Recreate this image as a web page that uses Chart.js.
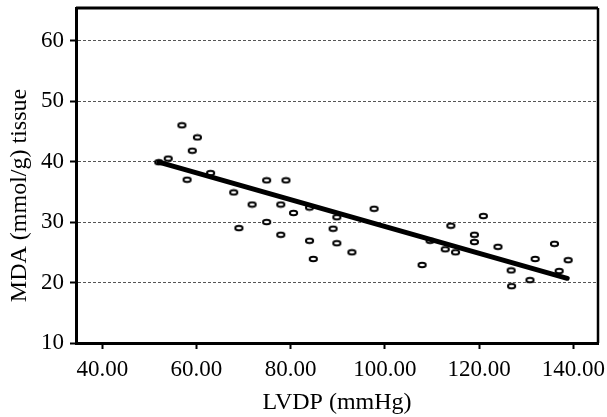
<!DOCTYPE html>
<html>
<head>
<meta charset="utf-8">
<script src="https://cdn.jsdelivr.net/npm/chart.js@4.4.1/dist/chart.umd.min.js"></script>
<style>
html,body{margin:0;padding:0;background:#fff;}
</style>
</head>
<body>
<canvas id="mdaChart" width="607" height="417"></canvas>
<script>
// LVDP vs MDA
var lvdp=[52.0,54.0,56.9,58.0,59.1,60.2,63.0,67.9,69.0,71.8,74.9,74.9,77.9,77.9,79.0,80.6,84.0,84.0,84.8,89.0,89.8,89.8,93.0,97.7,
	107.9,109.6,112.8,114.0,115.0,119.0,119.0,120.9,124.0,126.8,126.9,130.8,131.9,136.0,137.0,138.9];
var mda=[39.9,40.5,46.0,37.0,41.8,44.0,38.1,34.9,29.0,32.9,36.9,30.0,32.9,27.9,36.9,31.5,32.4,26.9,23.9,28.9,30.8,26.5,25.0,32.2,
	22.9,26.9,25.5,29.4,25.0,27.9,26.7,31.0,25.9,22.0,19.4,20.4,23.9,26.4,21.9,23.7];
// fitted line ends
var fitX=[52.0,138.7];
var fitY=[39.9,20.7];
var xTicks=[40,60,80,100,120,140];
var yTicks=[10,20,30,40,50,60];
var xTitle='LVDP (mmHg)';
var yTitle='MDA (mmol/g) tissue';

var serif='"Liberation Serif","Times New Roman",serif';

//작은 타원 마커
function makeMarker(){
	var c=document.createElement('canvas');
	c.width=11;c.height=8;
	var g=c.getContext('2d');
	g.beginPath();
	g.ellipse(5.5,4,3.6,2.3,0,0,Math.PI*2);
	g.fillStyle='#fff';
	g.fill();
	g.lineWidth=2;
	g.strokeStyle='#000';
	g.stroke();
	return c;
}

var pts=[];
for(var i=0;i<lvdp.length;i++){
	pts.push({x:lvdp[i],y:mda[i]});
}
var fitPts=[];
for(var j=0;j<fitX.length;j++){
	fitPts.push({x:fitX[j],y:fitY[j]});
}

//top/right frame + y title (sits below the axis middle in the original)
var framePlugin={
	id:'frame',
	afterDraw:function(chart){
		var a=chart.chartArea, ctx=chart.ctx;
		ctx.save();
		ctx.strokeStyle='#000';
		ctx.lineWidth=3;
		ctx.beginPath();
		ctx.moveTo(a.left,a.top);
		ctx.lineTo(a.right,a.top);
		ctx.stroke();
		ctx.lineWidth=2.5;
		ctx.beginPath();
		ctx.moveTo(a.right,a.top);
		ctx.lineTo(a.right,a.bottom);
		ctx.stroke();

		ctx.translate(20,(a.top+a.bottom)/2+20);
		ctx.rotate(-Math.PI/2);
		ctx.fillStyle='#000';
		ctx.font='24px '+serif;
		ctx.textAlign='center';
		ctx.textBaseline='middle';
		ctx.fillText(yTitle,0,0);
		ctx.restore();
	}
};

var ctx=document.getElementById('mdaChart').getContext('2d');
var chart=new Chart(ctx,{
	type:'scatter',
	data:{
		datasets:[{
			type:'line',
			data:fitPts,
			borderColor:'#000',
			borderWidth:5,
			borderCapStyle:'round',
			pointRadius:0,
			fill:false,
			order:0
		},{
			data:pts,
			pointStyle:makeMarker(),
			order:1
		}]
	},
	options:{
		responsive:false,
		animation:false,
		devicePixelRatio:1,
		layout:{padding:{top:8,right:9,left:0,bottom:0}},
		plugins:{legend:{display:false},tooltip:{enabled:false}},
		scales:{
			x:{
				type:'linear',
				min:34.42,
				max:145.24,
				afterBuildTicks:function(s){s.ticks=xTicks.map(function(v){return {value:v};});},
				afterFit:function(s){s.height=74;s.paddingLeft=0;s.paddingRight=0;},
				grid:{drawOnChartArea:false,drawTicks:true,tickLength:6,tickColor:'#000',tickWidth:2},
				border:{display:true,color:'#000',width:3},
				ticks:{color:'#000',font:{family:serif,size:23},padding:7,maxRotation:0,
					callback:function(v){return Number(v).toFixed(2);}},
				title:{display:true,text:xTitle,color:'#000',font:{family:serif,size:24},padding:{top:0,bottom:0}}
			},
			y:{
				type:'linear',
				min:10,
				max:65.4,
				afterBuildTicks:function(s){s.ticks=yTicks.map(function(v){return {value:v};});},
				afterFit:function(s){s.width=76;s.paddingTop=0;s.paddingBottom=0;},
				grid:{
					color:function(c){return (c.tick && c.tick.value===10) ? 'rgba(0,0,0,0)' : '#555';},
					lineWidth:1,
					drawTicks:true,tickLength:6,tickColor:'#000',tickWidth:2,tickBorderDash:[]
				},
				border:{display:true,color:'#000',width:3,dash:[3,2]},
				ticks:{color:'#000',font:{family:serif,size:23},padding:6,
					callback:function(v){return String(v);}},
				title:{display:false}
			}
		}
	},
	plugins:[framePlugin]
});
</script>
</body>
</html>
